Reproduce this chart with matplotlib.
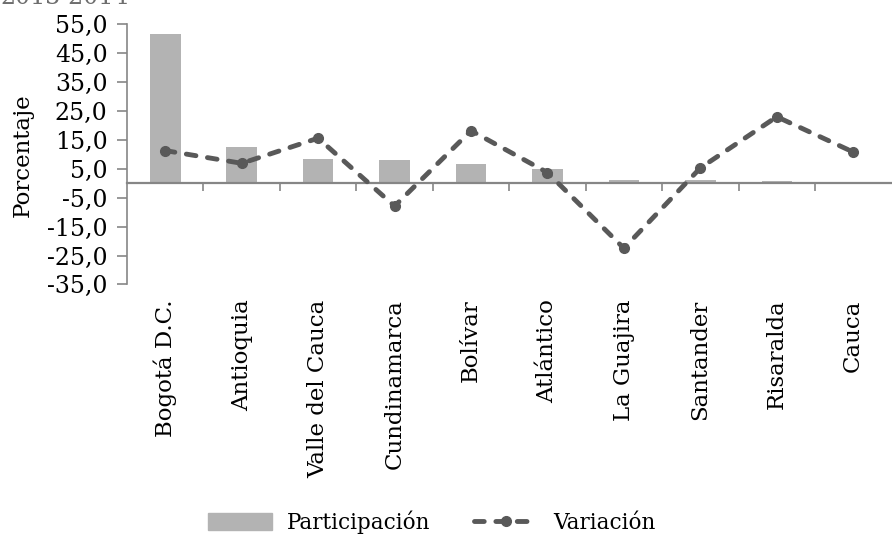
import matplotlib.pyplot as plt
import matplotlib.patches as mpatches
import matplotlib.lines as mlines
import matplotlib.transforms as mtransforms
import numpy as np

# === data ===
departamentos = ["Bogotá D.C.", "Antioquia", "Valle del Cauca", "Cundinamarca",
                 "Bolívar", "Atlántico", "La Guajira", "Santander", "Risaralda", "Cauca"]
participacion = [51.5, 12.5, 8.5, 8.2, 6.6, 4.9, 1.1, 1.1, 0.7, 0.4]
variacion = [11.3, 6.9, 15.6, -7.9, 18.2, 3.7, -22.5, 5.3, 23.0, 10.8]
y_ticks = [55, 45, 35, 25, 15, 5, -5, -15, -25, -35]

plt.rcParams["font.family"] = ["DejaVu Serif"]
axis_gray = "#868686"
line_kw = dict(color="#595959", linestyle=(0, (2.0, 2.4)), linewidth=3.5,
               dash_capstyle="round", marker="o", markersize=7)

fig = plt.figure(figsize=(8.92, 5.35), dpi=100)
ax = fig.add_axes([0.1424, 0.4684, 0.857, 0.4862])

x = np.arange(len(departamentos))
ax.bar(x, participacion, width=0.4, color="#b3b3b3", zorder=2)
ax.plot(x, variacion, zorder=3, **line_kw)

ax.set_xlim(-0.5, len(departamentos) - 0.5)
ax.set_ylim(-35, 55)
ax.set_yticks(y_ticks)
ax.set_yticklabels([f"{v:.1f}".replace(".", ",") for v in y_ticks])

# ticks at category boundaries on the zero line
ax.set_xticks(np.arange(0.5, len(departamentos) - 0.5, 1.0))
ax.set_xticklabels([])
ax.tick_params(axis="x", length=6, color=axis_gray, width=1.2, direction="out")
ax.tick_params(axis="y", length=7, color=axis_gray, width=1.2, direction="out",
               pad=7, labelsize=17)

# category names hang below the plot area
trans = mtransforms.blended_transform_factory(ax.transData, ax.transAxes)
for xi, name in zip(x, departamentos):
    ax.text(xi, -0.058, name, transform=trans, rotation=90, ha="center", va="top",
            fontsize=16.5)

for s in ["top", "right"]:
    ax.spines[s].set_visible(False)
ax.spines["bottom"].set_position(("data", 0))
ax.spines["bottom"].set_color(axis_gray)
ax.spines["bottom"].set_linewidth(1.6)
ax.spines["left"].set_color(axis_gray)
ax.spines["left"].set_linewidth(1.2)

fig.text(0.025, 0.71, "Porcentaje", rotation=90, ha="center", va="center", fontsize=16.5)
fig.text(0.0, 1.005, "2013-2014", color="#6e6e6e", fontsize=17, ha="left", va="center")

# === legend ===
h_bar = mpatches.Patch(color="#b3b3b3")
h_line = mlines.Line2D([], [], **line_kw)
fig.legend([h_bar, h_line], ["Participación", "Variación"], loc="center",
           bbox_to_anchor=(0.484, 0.024), ncol=2, frameon=False, fontsize=15.5,
           handlelength=3.0, handleheight=0.8, columnspacing=2.0, handletextpad=0.7)

plt.savefig("out.png", dpi=100)
